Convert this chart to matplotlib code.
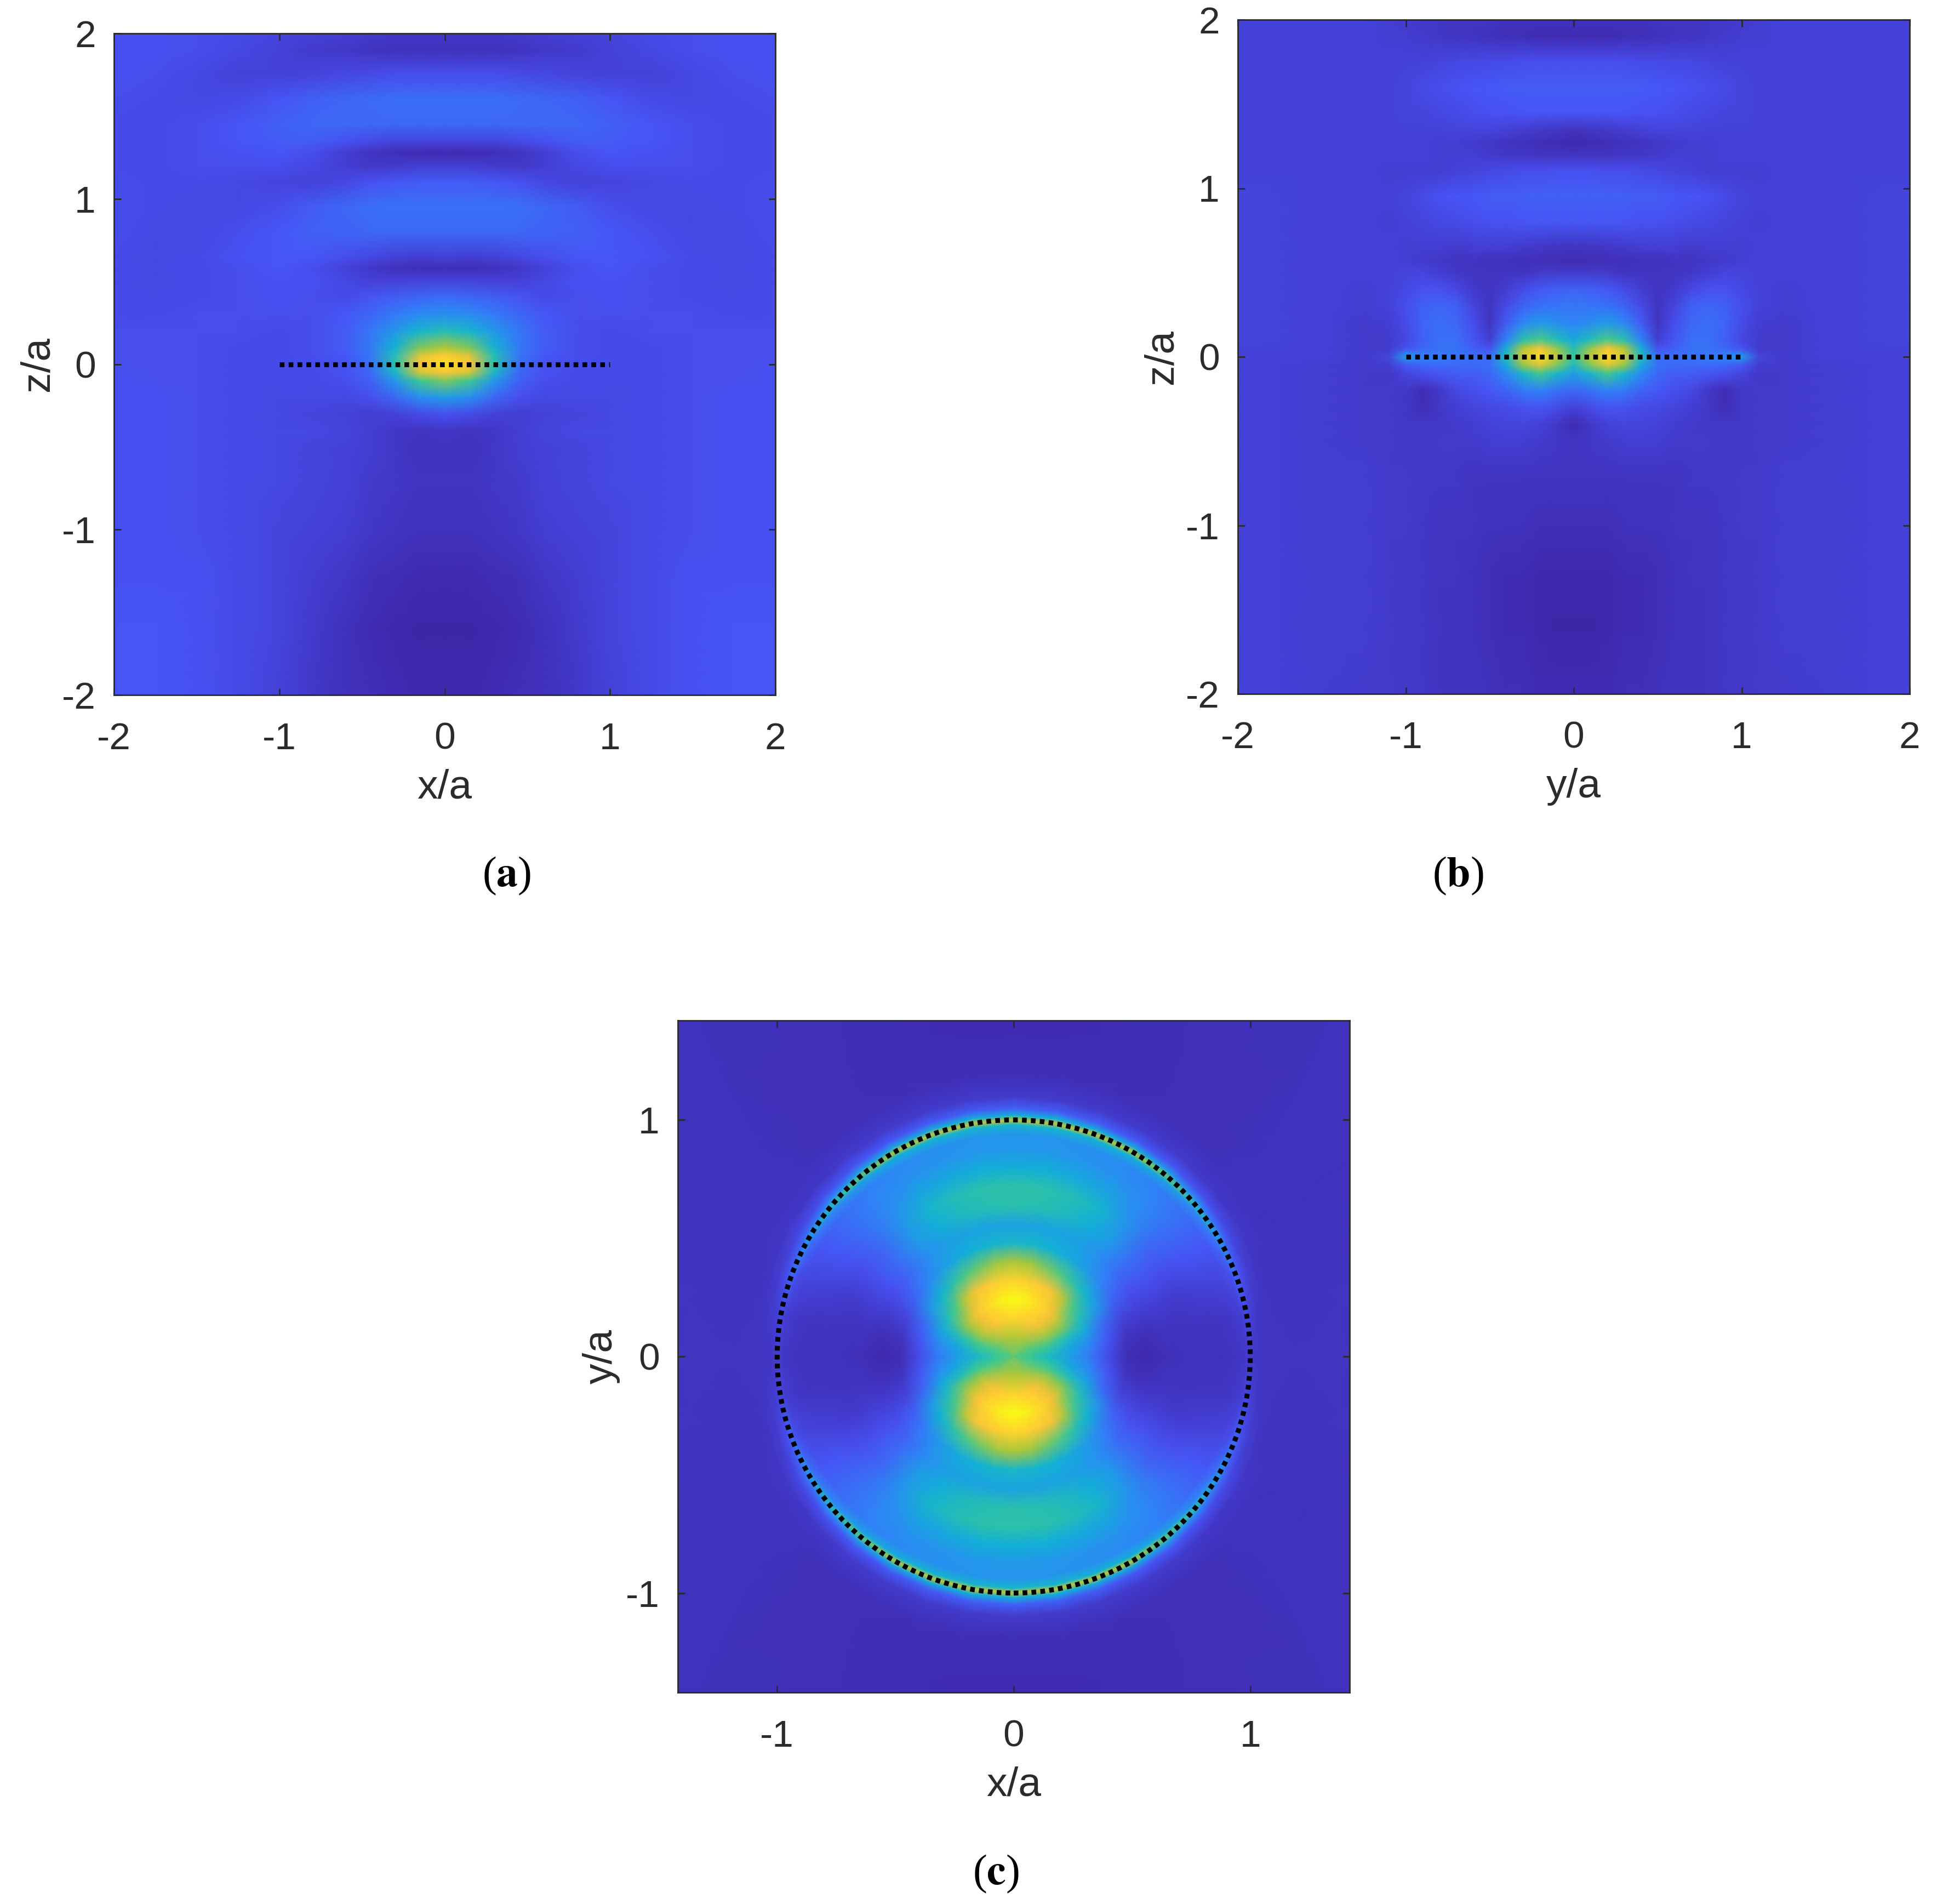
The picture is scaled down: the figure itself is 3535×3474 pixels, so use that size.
import numpy as np
import matplotlib
matplotlib.use("Agg")
import matplotlib.pyplot as plt
from matplotlib.colors import LinearSegmentedColormap
from matplotlib.patches import Circle

W, H = 3535, 3474
TXT = "#2b2b2b"
plt.rcParams["font.family"] = ["Liberation Sans", "DejaVu Sans"]
plt.rcParams["axes.unicode_minus"] = False

# parula style colours
parula_cols = [(0.2422, 0.1504, 0.6603), (0.2810, 0.3228, 0.9579), (0.1786, 0.5289, 0.9682),
               (0.0689, 0.6948, 0.8394), (0.2161, 0.7843, 0.5923), (0.6720, 0.7793, 0.2227),
               (0.9970, 0.7659, 0.2199), (0.9769, 0.9839, 0.0805)]
parula = LinearSegmentedColormap.from_list("parula_like", parula_cols)

# panel (a), right half only (x >= 0)
a_x = [0, .15, .3, .45, .6, .8, 1, 1.25, 1.5, 1.75, 2]
a_z = [2, 1.9, 1.75, 1.6, 1.45, 1.35, 1.28, 1.2, 1.1, .95, .8, .65, .58, .5, .4, .3, .2, .1, .05, 0,
       -.05, -.1, -.2, -.3, -.4, -.5, -.7, -1, -1.3, -1.6, -2]
a_vals = [
    [.06, .06, .06, .07, .08, .09, .10, .12, .13, .14, .14],
    [.04, .04, .04, .05, .06, .07, .09, .11, .13, .14, .14],
    [.13, .13, .13, .12, .11, .10, .09, .09, .11, .13, .14],
    [.22, .22, .22, .21, .20, .18, .15, .12, .11, .12, .13],
    [.20, .20, .20, .20, .20, .20, .18, .15, .13, .12, .12],
    [.10, .10, .10, .12, .14, .17, .17, .15, .13, .12, .12],
    [.02, .02, .03, .05, .08, .13, .15, .14, .13, .12, .12],
    [.08, .08, .07, .06, .08, .11, .13, .13, .13, .12, .12],
    [.17, .17, .16, .14, .11, .09, .10, .11, .12, .12, .13],
    [.23, .23, .23, .22, .20, .17, .13, .11, .11, .12, .13],
    [.20, .20, .20, .20, .19, .18, .16, .13, .11, .11, .13],
    [.09, .08, .09, .11, .13, .16, .16, .14, .12, .11, .12],
    [.03, .03, .04, .06, .09, .13, .15, .13, .12, .11, .12],
    [.10, .10, .09, .09, .11, .14, .14, .13, .12, .11, .12],
    [.22, .20, .18, .15, .12, .13, .14, .13, .12, .12, .12],
    [.32, .30, .25, .20, .16, .13, .13, .13, .13, .12, .12],
    [.50, .45, .34, .24, .17, .13, .12, .13, .13, .13, .13],
    [.72, .66, .44, .25, .17, .13, .12, .12, .13, .13, .13],
    [.88, .80, .50, .24, .16, .13, .12, .12, .13, .13, .13],
    [.93, .86, .52, .22, .14, .12, .12, .12, .13, .13, .13],
    [.85, .78, .46, .20, .14, .12, .12, .12, .13, .13, .14],
    [.66, .58, .34, .18, .13, .12, .12, .12, .13, .13, .14],
    [.36, .31, .20, .13, .11, .11, .11, .12, .13, .14, .14],
    [.14, .12, .09, .08, .09, .10, .11, .12, .13, .14, .14],
    [.06, .05, .06, .08, .10, .11, .11, .12, .13, .14, .14],
    [.04, .04, .06, .08, .09, .10, .11, .12, .13, .14, .14],
    [.05, .05, .06, .07, .09, .10, .11, .12, .13, .14, .14],
    [.04, .04, .05, .06, .08, .09, .10, .12, .13, .14, .14],
    [.015, .015, .025, .035, .055, .075, .10, .12, .14, .14, .14],
    [.00, .00, .01, .02, .04, .07, .10, .12, .14, .15, .15],
    [.01, .01, .02, .03, .04, .06, .09, .12, .14, .15, .15],
]

# panel (b): right half only (y >= 0)
b_y = [0, .1, .2, .3, .4, .5, .6, .7, .8, .9, 1, 1.1, 1.25, 1.5, 2]
b_z = [2, 1.9, 1.75, 1.6, 1.45, 1.35, 1.27, 1.2, 1.1, .95, .8, .65, .57, .5, .4, .3, .2, .1, .05, 0,
       -.05, -.1, -.2, -.3, -.4, -.5, -.7, -1, -1.3, -1.6, -2]
b_vals = [
    [.04, .04, .04, .04, .04, .05, .05, .05, .06, .06, .07, .08, .09, .09, .09],
    [.02, .02, .02, .03, .03, .04, .05, .05, .06, .07, .08, .08, .09, .09, .09],
    [.13, .13, .13, .13, .12, .12, .11, .11, .10, .09, .09, .09, .09, .09, .09],
    [.17, .17, .17, .17, .17, .16, .15, .14, .13, .12, .10, .09, .09, .09, .09],
    [.15, .15, .15, .15, .14, .14, .13, .12, .11, .10, .10, .09, .09, .09, .09],
    [.05, .06, .07, .08, .09, .10, .10, .10, .09, .09, .09, .09, .09, .09, .09],
    [.01, .02, .03, .04, .05, .06, .07, .08, .08, .09, .09, .09, .09, .09, .09],
    [.05, .05, .05, .06, .06, .07, .08, .08, .08, .09, .09, .09, .09, .09, .09],
    [.14, .14, .13, .13, .12, .11, .10, .09, .08, .08, .08, .08, .09, .09, .09],
    [.18, .18, .18, .18, .17, .17, .16, .15, .14, .12, .10, .09, .09, .09, .10],
    [.15, .15, .15, .15, .14, .14, .13, .12, .11, .10, .09, .08, .09, .09, .10],
    [.05, .05, .06, .07, .08, .08, .08, .07, .08, .08, .08, .09, .09, .09, .10],
    [.02, .03, .03, .03, .04, .04, .05, .05, .06, .07, .08, .09, .09, .09, .10],
    [.07, .07, .07, .05, .05, .05, .05, .06, .08, .10, .10, .09, .09, .09, .10],
    [.19, .18, .16, .12, .08, .05, .07, .11, .14, .14, .11, .09, .08, .09, .10],
    [.24, .24, .23, .19, .12, .05, .10, .18, .20, .18, .13, .09, .08, .09, .10],
    [.28, .31, .35, .29, .17, .05, .13, .20, .22, .19, .12, .08, .07, .09, .10],
    [.40, .50, .60, .52, .28, .08, .15, .22, .22, .18, .11, .07, .07, .09, .10],
    [.50, .68, .84, .72, .42, .14, .18, .23, .23, .20, .14, .07, .07, .09, .09],
    [.55, .75, .92, .80, .50, .22, .22, .24, .26, .28, .36, .10, .07, .09, .09],
    [.48, .66, .80, .68, .40, .22, .20, .21, .21, .20, .16, .08, .07, .08, .09],
    [.36, .46, .58, .46, .30, .20, .17, .17, .15, .13, .10, .06, .07, .08, .09],
    [.20, .23, .27, .25, .19, .16, .13, .11, .06, .02, .06, .07, .07, .08, .09],
    [.09, .12, .15, .14, .12, .11, .10, .08, .06, .03, .06, .07, .07, .08, .09],
    [.02, .06, .09, .10, .10, .09, .08, .07, .06, .06, .06, .07, .07, .08, .09],
    [.05, .06, .07, .08, .08, .08, .07, .07, .07, .06, .06, .07, .07, .08, .09],
    [.05, .05, .05, .05, .05, .05, .05, .06, .06, .06, .07, .07, .08, .08, .09],
    [.03, .03, .03, .04, .04, .04, .05, .05, .05, .06, .07, .07, .08, .08, .09],
    [.01, .01, .01, .02, .02, .03, .04, .05, .05, .06, .06, .07, .08, .08, .09],
    [.00, .00, .01, .02, .02, .03, .04, .04, .05, .06, .06, .07, .08, .08, .09],
    [.02, .02, .02, .03, .03, .04, .04, .04, .05, .06, .06, .07, .07, .08, .09],
]

# panel (c): one quadrant on a polar grid, angle measured from the +y axis
c_r = [0, .08, .16, .24, .32, .4, .48, .56, .64, .72, .8, .88, .94, .98, 1, 1.02, 1.05, 1.1, 1.2, 1.4, 2.2]
c_deg = [0, 10, 20, 30, 40, 50, 60, 70, 80, 90]
c_vals = [
    [.62, .62, .62, .62, .62, .62, .62, .62, .62, .62],
    [.72, .72, .72, .70, .68, .66, .62, .60, .58, .56],
    [.90, .89, .88, .86, .82, .76, .68, .59, .52, .46],
    [1.0, .98, .94, .90, .85, .76, .65, .50, .40, .36],
    [.90, .89, .87, .84, .74, .60, .50, .40, .30, .25],
    [.72, .70, .65, .60, .52, .44, .35, .21, .16, .12],
    [.46, .45, .43, .40, .35, .28, .19, .10, .05, .025],
    [.38, .38, .38, .37, .32, .22, .14, .08, .035, .015],
    [.52, .51, .48, .42, .35, .22, .14, .08, .045, .035],
    [.53, .53, .50, .45, .34, .21, .13, .07, .045, .04],
    [.42, .42, .40, .38, .31, .22, .14, .08, .05, .04],
    [.34, .34, .33, .32, .29, .23, .16, .09, .05, .04],
    [.33, .33, .32, .30, .27, .22, .16, .10, .06, .05],
    [.45, .45, .44, .42, .38, .30, .22, .13, .08, .06],
    [.75, .75, .75, .72, .62, .50, .35, .20, .11, .08],
    [.42, .42, .41, .39, .35, .28, .20, .13, .08, .06],
    [.18, .18, .17, .16, .15, .13, .11, .08, .06, .05],
    [.07, .07, .07, .07, .07, .06, .06, .05, .05, .05],
    [.025, .03, .03, .03, .035, .04, .04, .045, .045, .05],
    [.02, .02, .025, .03, .035, .04, .04, .045, .05, .05],
    [.04, .04, .04, .04, .04, .04, .04, .04, .04, .04],
]

ab_ticks = [-2, -1, 0, 1, 2]
c_ticks = [-1, 0, 1]

# axes boxes in pixels: left, right, top, bottom
box_a = (208, 1415, 61, 1268)
box_b = (2259, 3485, 36, 1266)
box_c = (1237, 2463, 1862, 3088)

fig = plt.figure(figsize=(W / 100, H / 100), dpi=100, facecolor="white")


def make_axes(box, xlabel, ylabel, ticks, lims):
    l, r, t, b = box
    ax = fig.add_axes([l / W, 1 - b / H, (r - l) / W, (b - t) / H])
    ax.set_xlim(lims)
    ax.set_ylim(lims)
    ax.set_xticks(ticks)
    ax.set_yticks(ticks)
    ax.tick_params(direction="in", length=9, width=2, color=TXT, top=True, right=True,
                   labelsize=50, labelcolor=TXT)
    ax.tick_params(axis="x", pad=35)
    ax.tick_params(axis="y", pad=24)
    for s in ax.spines.values():
        s.set_linewidth(2)
        s.set_color(TXT)
        s.set_zorder(5)
    ax.set_xlabel(xlabel, fontsize=54, color=TXT, labelpad=16)
    ax.set_ylabel(ylabel, fontsize=54, color=TXT, labelpad=7)
    return ax


def mirrored_mesh(ax, half_x, rows, vals):
    vals = np.array(vals, dtype=float)
    half_x = np.array(half_x, dtype=float)
    xs = np.concatenate([-half_x[:0:-1], half_x])
    full = np.hstack([vals[:, :0:-1], vals])
    ax.pcolormesh(xs, rows, full, shading="gouraud", cmap=parula, vmin=0, vmax=1)


dots = (0, (0.95, 0.85))

ax_a = make_axes(box_a, "x/a", "z/a", ab_ticks, (-2, 2))
mirrored_mesh(ax_a, a_x, a_z, a_vals)
ax_a.plot([-1, 1], [0, 0], color="black", lw=6.5, ls=dots, dash_capstyle="butt")

ax_b = make_axes(box_b, "y/a", "z/a", ab_ticks, (-2, 2))
mirrored_mesh(ax_b, b_y, b_z, b_vals)
ax_b.plot([-1, 1], [0, 0], color="black", lw=6.5, ls=dots, dash_capstyle="butt")

ax_c = make_axes(box_c, "x/a", "y/a", c_ticks, (-1.42, 1.42))
q = np.array(c_vals, dtype=float)
# repeat the quadrant round the full circle
c_full = np.hstack([q, q[:, -2::-1], q[:, 1:], q[:, -2::-1]])
phi = np.radians(np.arange(c_full.shape[1]) * (c_deg[1] - c_deg[0]))
rr, pp = np.meshgrid(c_r, phi, indexing="ij")
ax_c.pcolormesh(rr * np.sin(pp), rr * np.cos(pp), c_full, shading="gouraud", cmap=parula, vmin=0, vmax=1)
ax_c.add_patch(Circle((0, 0), 1, fill=False, edgecolor="black", lw=6.5, ls=dots, capstyle="butt"))

# captions, bold letter between plain brackets
serif = ["Liberation Serif", "DejaVu Serif"]
for cap, px, py in [("a", 925, 1598), ("b", 2661, 1598), ("c", 1817, 3419)]:
    fig.text(px / W, 1 - py / H, r"($\mathbf{" + cap + "}$)", ha="center", va="center",
             fontsize=56, color="black", family=serif, math_fontfamily="stix")

fig.savefig("out.png", dpi=100, facecolor="white")
